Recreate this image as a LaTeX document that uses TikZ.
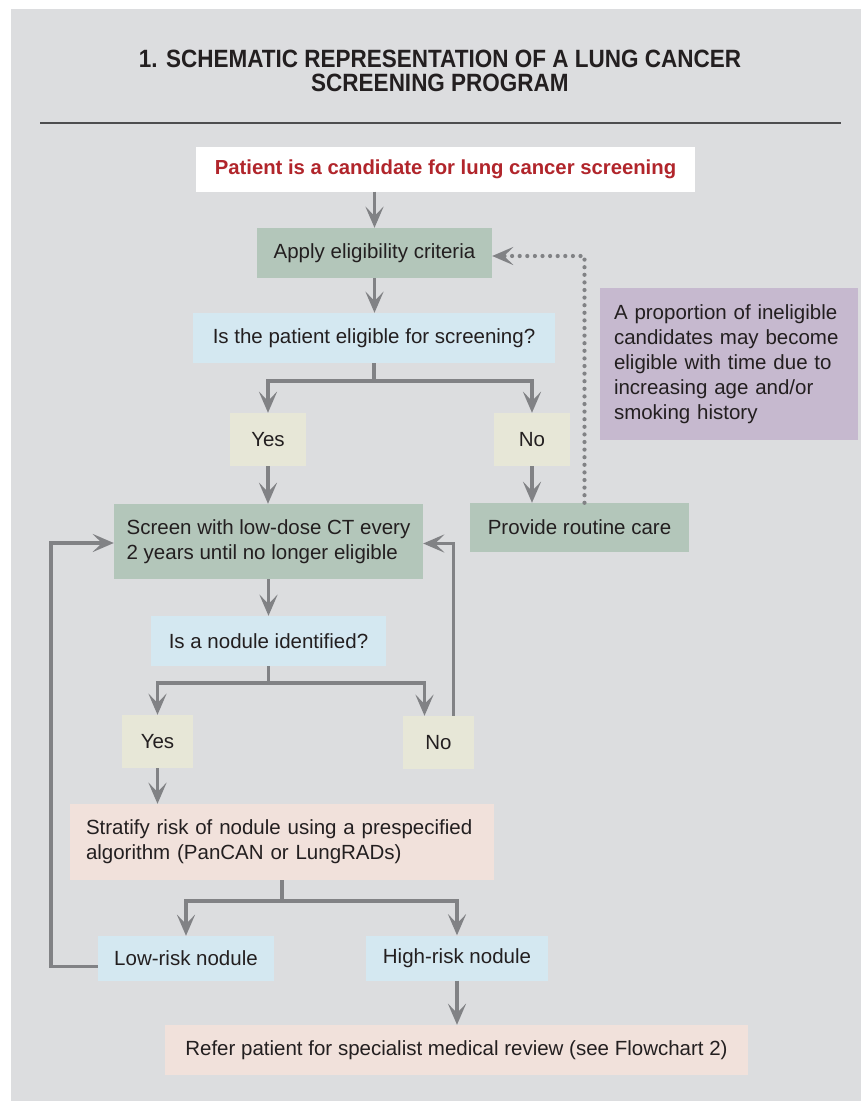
\documentclass[tikz,border=0pt]{standalone}
\usepackage{fontspec}
\setmainfont{Liberation Sans}
\newfontfamily\headfont{Liberation Sans}[FakeStretch=0.9]
\usetikzlibrary{arrows.meta,calc}
\definecolor{panelgrey}{HTML}{DCDDDF}
\definecolor{rulegrey}{HTML}{4D4D4F}
\definecolor{cancerred}{HTML}{B1252B}
\definecolor{stepgreen}{HTML}{B3C6BA}
\definecolor{askblue}{HTML}{D4E8F1}
\definecolor{answerbeige}{HTML}{E7E7D7}
\definecolor{notepurple}{HTML}{C6B9CF}
\definecolor{riskpink}{HTML}{F1E1DB}
\definecolor{linkgrey}{HTML}{818285}
\definecolor{inkblack}{HTML}{231F20}
\tikzset{
    chart box/.style={
        inner xsep=15pt, inner ysep=0pt,
        text=inkblack, align=center,
        font=\fontsize{20.5}{25}\selectfont
    },
    entry box/.style={chart box, fill=white, text=cancerred,
        font=\bfseries\fontsize{20.3}{25}\selectfont},
    action box/.style={chart box, fill=stepgreen},
    query box/.style={chart box, fill=askblue},
    answer box/.style={chart box, fill=answerbeige},
    note box/.style={chart box, fill=notepurple, inner xsep=14pt, align=left},
    risk box/.style={chart box, fill=riskpink},
    heading/.style={anchor=north, inner sep=0pt, align=center, text=inkblack,
        font=\headfont\bfseries\fontsize{25}{24}\selectfont},
    flow arrow/.style={
        draw=linkgrey, line width=3.5pt,
        -{Stealth[length=21pt, width=18pt, inset=9pt]}
    },
    dot arrow/.style={
        flow arrow, line width=4.2pt, line cap=round,
        dash pattern=on 0pt off 7.6pt
    }
}
\begin{document}
\begin{tikzpicture}[x=1pt,y=-1pt]
    \useasboundingbox (0,0) rectangle (861,1101);
    \fill[panelgrey] (11,9) rectangle (861,1101);
    \node[heading] (title) at (440,50) {1. SCHEMATIC REPRESENTATION OF A LUNG CANCER\\SCREENING PROGRAM};
    \draw[rulegrey, line width=2pt] (40,123) -- (841,123);

    \node[entry box, minimum width=499pt, minimum height=45pt] (cand) at (445.5,169) {Patient is a candidate for lung cancer screening};
    \node[action box, minimum width=235pt, minimum height=50pt] (apply) at (374.5,253) {Apply eligibility criteria};
    \node[query box, minimum width=362pt, minimum height=50pt] (elig) at (374,338) {Is the patient eligible for screening?};
    \node[answer box, minimum width=76pt, minimum height=53pt] (yes1) at (268,439.5) {Yes};
    \node[answer box, minimum width=76pt, minimum height=53pt] (no1) at (532,439.5) {No};
    \node[action box, inner xsep=11pt, align=left, minimum width=309pt, minimum height=75pt] (screen) at (268.5,541.5) {Screen with low-dose CT every\\2 years until no longer eligible};
    \node[action box, minimum width=219pt, minimum height=49pt] (care) at (579.5,527.5) {Provide routine care};
    \node[note box, text width=230pt, minimum height=152pt] (note) at (729,364) {A proportion of ineligible\\candidates may become\\eligible with time due to\\increasing age and/or\\smoking history};
    \node[query box, minimum width=235pt, minimum height=50pt] (nodq) at (268.5,641) {Is a nodule identified?};
    \node[answer box, minimum width=71pt, minimum height=53pt] (yes2) at (157.5,741.5) {Yes};
    \node[answer box, minimum width=71pt, minimum height=53pt] (no2) at (438.5,742.5) {No};
    \node[risk box, inner xsep=16pt, text width=392pt, align=left, minimum height=76pt] (strat) at (282,842) {Stratify risk of nodule using a prespecified\\algorithm (PanCAN or LungRADs)};
    \node[query box, minimum width=176pt, minimum height=45pt] (low) at (186,958.5) {Low-risk nodule};
    \node[query box, minimum width=182pt, minimum height=45pt] (high) at (457,958) {High-risk nodule};
    \node[risk box, minimum width=583pt, minimum height=50pt] (refer) at (456.5,1050) {Refer patient for specialist medical review (see Flowchart 2)};

    \draw[flow arrow] (cand.south -| apply.north) -- (apply.north);
    \draw[flow arrow] (apply.south) -- (apply.south |- elig.north);
    \draw[flow arrow] (elig.south) -- ++(0,18) -| (yes1.north);
    \draw[flow arrow] (elig.south) -- ++(0,18) -| (no1.north);
    \draw[flow arrow] (yes1.south) -- (yes1.south |- screen.north);
    \draw[flow arrow] (no1.south) -- (no1.south |- care.north);
    \draw[dot arrow] ([xshift=5pt]care.north) |- ([yshift=-3pt]apply.east);
    \draw[flow arrow] (screen.south) -- (screen.south |- nodq.north);
    \draw[flow arrow] (nodq.south) -- ++(0,17) -| (yes2.north);
    \draw[flow arrow] (nodq.south) -- ++(0,17) -| ([xshift=-14pt]no2.north);
    \draw[flow arrow] ([xshift=15pt]no2.north) |- ([yshift=-2pt]screen.east);
    \draw[flow arrow] (yes2.south) -- (yes2.south |- strat.north);
    \draw[flow arrow] (strat.south) -- ++(0,21) -| (low.north);
    \draw[flow arrow] (strat.south) -- ++(0,21) -| (high.north);
    \draw[flow arrow] ([yshift=-8pt]low.west) -- ++(-47,0) |- ([yshift=-1.5pt]screen.west);
    \draw[flow arrow] (high.south) -- (high.south |- refer.north);
\end{tikzpicture}
\end{document}
